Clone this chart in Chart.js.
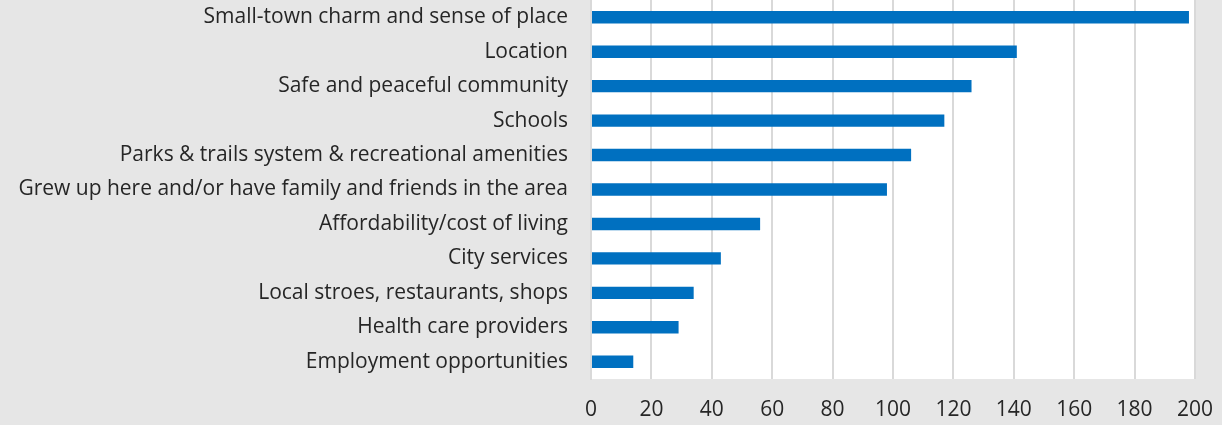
<!DOCTYPE html>
<html>
<head>
<meta charset="utf-8">
<script src="https://cdn.jsdelivr.net/npm/chart.js@4/dist/chart.umd.min.js"></script>
<style>
  html, body { margin: 0; padding: 0; background: #e6e6e6; }
  #wrap { width: 1222px; height: 425px; }
</style>
</head>
<body>
<div id="wrap"><canvas id="chart" width="1222" height="425"></canvas></div>
<script>
const categories = [
  'Small-town charm and sense of place',
  'Location',
  'Safe and peaceful community',
  'Schools',
  'Parks & trails system & recreational amenities',
  'Grew up here and/or have family and friends in the area',
  'Affordability/cost of living',
  'City services',
  'Local stroes, restaurants, shops',
  'Health care providers',
  'Employment opportunities'
]
const responses = [198, 141, 126, 117, 106, 98, 56, 43, 34, 29, 14]
const xTicks = [0, 20, 40, 60, 80, 100, 120, 140, 160, 180, 200]

// paint the plot area white, the rest stays grey
const plotBg = {
  id: 'plotBg',
  beforeDraw (chart) {
    const { ctx, chartArea } = chart
    ctx.save()
    ctx.fillStyle = '#e6e6e6'
    ctx.fillRect(0, 0, chart.width, chart.height)
    ctx.fillStyle = '#ffffff'
    ctx.fillRect(chartArea.left, chartArea.top, chartArea.right - chartArea.left, chartArea.bottom - chartArea.top)
    ctx.restore()
  }
}

const font = { family: '"Open Sans", "Noto Sans", sans-serif', size: 21 }

new Chart(document.getElementById('chart').getContext('2d'), {
  type: 'bar',
  data: {
    labels: categories,
    datasets: [{
      label: 'Responses',
      data: responses,
      backgroundColor: '#0070c0',
      borderWidth: 0,
      barPercentage: 0.36,
      categoryPercentage: 1
    }]
  },
  options: {
    indexAxis: 'y',
    responsive: false,
    animation: false,
    layout: { padding: { top: 0, right: 27, left: 0, bottom: 0 } },
    plugins: {
      legend: { display: false },
      tooltip: { enabled: false }
    },
    scales: {
      x: {
        min: 0,
        max: 200,
        afterBuildTicks (axis) { axis.ticks = xTicks.map(v => ({ value: v })) },
        afterFit (axis) {
          axis.height = 46
          axis.paddingLeft = 0
          axis.paddingRight = 0
        },
        grid: { color: '#d9d9d9', lineWidth: 2, drawTicks: false },
        border: { display: false },
        ticks: { color: '#262626', font, padding: 18 }
      },
      y: {
        afterFit (axis) {
          axis.width = 591
          axis.paddingTop = 0
          axis.paddingBottom = 0
        },
        grid: { display: false },
        border: { display: true, color: '#d9d9d9', width: 2 },
        ticks: { color: '#262626', font, padding: 15 }
      }
    }
  },
  plugins: [plotBg]
})
</script>
</body>
</html>
